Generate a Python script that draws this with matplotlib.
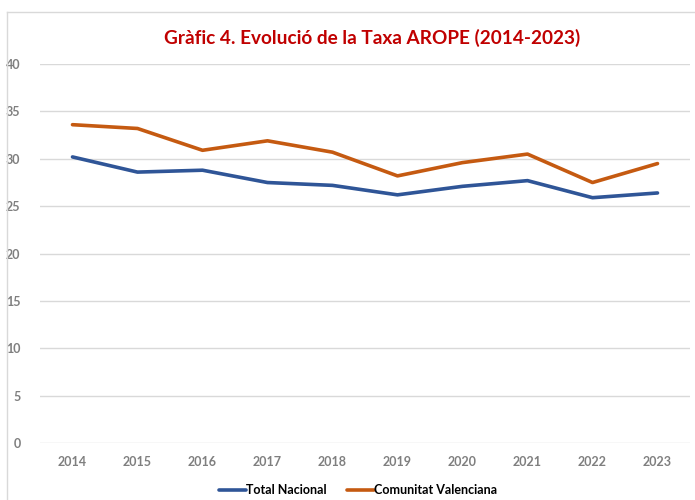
import matplotlib
matplotlib.use("Agg")
import matplotlib.pyplot as plt
from matplotlib.lines import Line2D

years = ["2014", "2015", "2016", "2017", "2018", "2019", "2020", "2021", "2022", "2023"]
total_nacional = [30.2, 28.6, 28.8, 27.5, 27.2, 26.2, 27.1, 27.7, 25.9, 26.4]
comunitat_valenciana = [33.6, 33.2, 30.9, 31.9, 30.7, 28.2, 29.6, 30.5, 27.5, 29.5]
yticks = [0, 5, 10, 15, 20, 25, 30, 35, 40]

plt.rcParams['font.family'] = ['Lato', 'DejaVu Sans']

fig = plt.figure(figsize=(6.95, 5.0), dpi=100)
ax = fig.add_axes([40/695, 1 - 443.3/500, 650/695, (443.3 - 64)/500])

x = list(range(len(years)))
ax.plot(x, total_nacional, color="#2F5597", lw=2.6, solid_capstyle="round", label="Total Nacional")
ax.plot(x, comunitat_valenciana, color="#C55A11", lw=2.6, solid_capstyle="round", label="Comunitat Valenciana")

ax.set_xlim(-0.5, len(years) - 0.5)
ax.set_ylim(0, 40)
ax.set_yticks(yticks)
ax.set_xticks(x)
ax.set_xticklabels(years)
ax.yaxis.grid(True, color="#D9D9D9", lw=1)
ax.set_axisbelow(True)
for s in ax.spines.values():
    s.set_visible(False)
ax.tick_params(axis="both", length=0, colors="#7F7F7F", labelsize=9)
ax.tick_params(axis="y", pad=14)
ax.tick_params(axis="x", pad=9)
for lab in ax.get_xticklabels() + ax.get_yticklabels():
    lab.set_fontweight("bold")

fig.text(372/695, 1 - 38/500, "Gràfic 4. Evolució de la Taxa AROPE (2014-2023)",
         ha="center", va="center", color="#C00000", fontsize=13.7, fontweight="bold")

# outer chart frame (left and top)
fig.add_artist(Line2D([7/695, 7/695], [0, 1 - 12/500], transform=fig.transFigure, color="#D9D9D9", lw=1))
fig.add_artist(Line2D([7/695, 1], [1 - 12/500, 1 - 12/500], transform=fig.transFigure, color="#D9D9D9", lw=1))

leg = fig.legend(loc="center", bbox_to_anchor=(358/695, 1 - 490/500), ncol=2, frameon=False,
                 handlelength=2.2, handletextpad=0.0, columnspacing=1.6,
                 prop={"size": 9, "weight": "bold"})

fig.savefig("out.png", dpi=100)
